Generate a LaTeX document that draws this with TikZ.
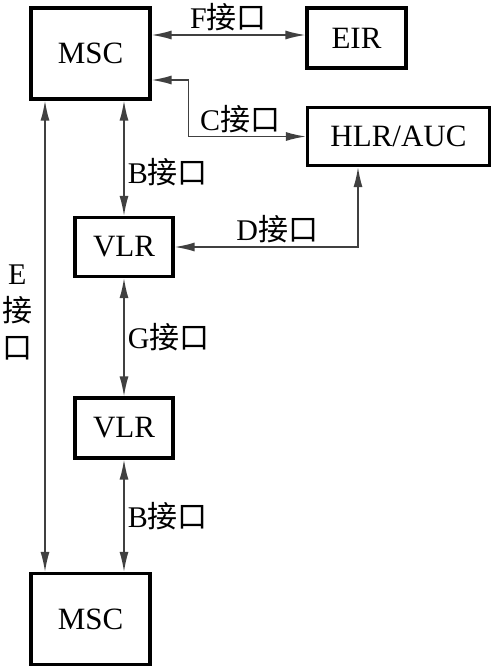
\documentclass[tikz,border=0pt]{standalone}
\usepackage{fontspec}
\setmainfont{Liberation Serif}
\newfontfamily\cjk[Scale=1.0]{Noto Sans CJK SC}
\usetikzlibrary{arrows.meta, positioning, calc}
\newcommand\jiekou{{\cjk 接口}}
\tikzset{
  unit/.style ={rectangle, draw=black, line width=3.2pt, align=center, inner sep=0pt,
                font=\fontsize{31}{36}\selectfont},
  link/.style ={{Latex[length=20pt,width=9pt]}-{Latex[length=20pt,width=9pt]},
                draw=black!75, line width=1.5pt},
  lbl/.style  ={font=\fontsize{30}{37}\selectfont, inner sep=3pt},
}
\begin{document}
\begin{tikzpicture}[x=1pt, y=-1pt]
  \useasboundingbox (0,0) rectangle (492,667);
  \node[unit, minimum width=119pt, minimum height=91pt] (msc1) at (90.5,53.5)  {MSC};
  \node[unit, minimum width=99pt,  minimum height=60pt] (eir)  at (356.5,38)   {EIR};
  \node[unit, minimum width=182pt, minimum height=58pt] (hlr)  at (398.5,136.5) {HLR/AUC};
  \node[unit, minimum width=98pt,  minimum height=59pt] (vlr1) at (124,247)    {VLR};
  \node[unit, minimum width=98pt,  minimum height=60pt] (vlr2) at (124,428)    {VLR};
  \node[unit, minimum width=119pt, minimum height=91pt] (msc2) at (90.5,619)   {MSC};
  \draw[link] ([yshift=3pt]eir.west -| msc1.east) -- node[lbl, above] {F\jiekou} ([yshift=3pt]eir.west);
  \draw[link] ([yshift=-26.5pt]msc1.east) -- ++(37,0) |- node[lbl, above, pos=0.72] {C\jiekou} (hlr.west);
  \draw[link] (vlr1.north |- msc1.south) -- node[lbl, right, pos=0.62] {B\jiekou} (vlr1.north);
  \draw[link] ([xshift=-40.5pt]hlr.south) |- node[lbl, above, pos=0.72] {D\jiekou} (vlr1.east);
  \draw[link] ([xshift=-45.5pt]msc1.south) -- node[lbl, left=9pt, pos=0.45, align=center] {E\\{\cjk 接}\\{\cjk 口}} ([xshift=-45.5pt]msc2.north);
  \draw[link] (vlr1.south) -- node[lbl, right] {G\jiekou} (vlr2.north);
  \draw[link] (vlr2.south) -- node[lbl, right] {B\jiekou} (vlr2.south |- msc2.north);
\end{tikzpicture}
\end{document}
